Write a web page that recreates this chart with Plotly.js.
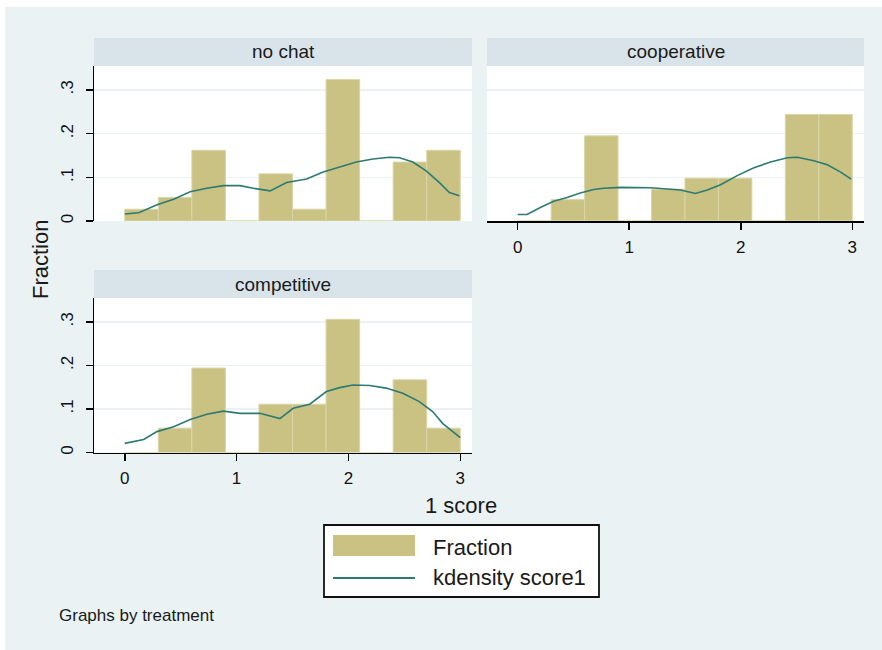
<!DOCTYPE html>
<html>
<head>
<meta charset="utf-8">
<script src="https://cdn.plot.ly/plotly-3.0.1.min.js"></script>
<style>
  html, body { margin: 0; padding: 0; background: #EAF2F3; overflow: hidden; }
  #chart { width: 882px; height: 650px; }
</style>
</head>
<body>
<div id="chart"></div>
<script>
// ---- data ----
const panelTitles = ['no chat', 'cooperative', 'competitive'];
const binCenters = [0.15, 0.45, 0.75, 1.05, 1.35, 1.65, 1.95, 2.25, 2.55, 2.85];
const binWidth = 0.3;
const fracNoChat = [0.027, 0.054, 0.162, 0, 0.108, 0.027, 0.324, 0, 0.135, 0.162];
const fracCoop   = [0, 0.049, 0.195, 0, 0.073, 0.098, 0.098, 0, 0.244, 0.244];
const fracComp   = [0, 0.056, 0.194, 0, 0.111, 0.111, 0.306, 0, 0.167, 0.056];

const kdXNoChat = [0, 0.125, 0.289, 0.437, 0.585, 0.734, 0.882, 1.031, 1.15, 1.30, 1.447, 1.626, 1.774, 1.922, 2.071, 2.219, 2.368, 2.457, 2.576, 2.695, 2.814, 2.903, 2.992];
const kdYNoChat = [0.016, 0.019, 0.037, 0.050, 0.067, 0.075, 0.081, 0.081, 0.075, 0.069, 0.088, 0.096, 0.112, 0.123, 0.135, 0.142, 0.146, 0.145, 0.135, 0.115, 0.088, 0.065, 0.058];

const kdXCoop = [0, 0.084, 0.203, 0.323, 0.443, 0.562, 0.682, 0.772, 0.921, 1.19, 1.46, 1.594, 1.70, 1.819, 1.968, 2.118, 2.267, 2.417, 2.507, 2.656, 2.776, 2.896, 2.99];
const kdYCoop = [0.015, 0.015, 0.031, 0.045, 0.054, 0.064, 0.072, 0.075, 0.077, 0.076, 0.071, 0.063, 0.071, 0.083, 0.104, 0.122, 0.135, 0.145, 0.146, 0.138, 0.129, 0.112, 0.096];

const kdXComp = [0, 0.169, 0.288, 0.437, 0.585, 0.734, 0.882, 1.031, 1.209, 1.387, 1.506, 1.654, 1.803, 1.922, 2.04, 2.19, 2.337, 2.486, 2.634, 2.753, 2.842, 2.931, 3.0];
const kdYComp = [0.021, 0.030, 0.048, 0.059, 0.076, 0.088, 0.095, 0.090, 0.090, 0.078, 0.1015, 0.111, 0.140, 0.149, 0.155, 0.154, 0.148, 0.136, 0.117, 0.094, 0.067, 0.048, 0.034];

const yTickVals = [0, 0.1, 0.2, 0.3];
const yTickText = ['0', '.1', '.2', '.3'];
const xTickVals = [0, 1, 2, 3];
const xTickText = ['0', '1', '2', '3'];
const legendLabels = ['Fraction', 'kdensity score1'];

// ---- styles ----
const W = 882, H = 650;
const BAR = '#C9C283';
const BAR_EDGE = '#DAD6A8';
const LINE = '#2D7A72';
const BG = '#EAF2F3';
const STRIP = '#D8E4EA';
const FONT = 'Liberation Sans, Arial, sans-serif';
const px = v => v / W;
const py = v => 1 - v / H;

function bars(y, xa, ya) {
  return { type: 'bar', x: binCenters, y: y, width: binWidth, xaxis: xa, yaxis: ya,
    marker: { color: BAR, line: { color: BAR_EDGE, width: 1 } }, showlegend: false, hoverinfo: 'skip' };
}
function kd(x, y, xa, ya) {
  return { type: 'scatter', mode: 'lines', x: x, y: y, xaxis: xa, yaxis: ya,
    line: { color: LINE, width: 1.6 }, showlegend: false, hoverinfo: 'skip' };
}

const data = [
  bars(fracNoChat, 'x', 'y'), kd(kdXNoChat, kdYNoChat, 'x', 'y'),
  bars(fracCoop, 'x2', 'y2'), kd(kdXCoop, kdYCoop, 'x2', 'y2'),
  bars(fracComp, 'x3', 'y3'), kd(kdXComp, kdYComp, 'x3', 'y3')
];

const col1 = [px(94), px(472)];
const col2 = [px(487), px(864)];
const row1 = [py(221), py(66)];
const row2 = [py(452.5), py(298)];
const xr = [-0.275, 3.105];
const yr = [0, 0.355];

const tickFont = { family: FONT, size: 17, color: '#111' };

function xAxis(domain, anchor, show) {
  return {
    domain: domain, anchor: anchor, range: xr, fixedrange: true,
    showgrid: false, zeroline: false,
    showline: show, linecolor: '#000', linewidth: 1.5,
    ticks: show ? 'outside' : '', ticklen: 7, tickwidth: 1.5, tickcolor: '#000',
    tickvals: xTickVals, ticktext: xTickText, showticklabels: show,
    tickfont: tickFont, ticklabelstandoff: 3
  };
}
function yAxis(domain, anchor, show) {
  return {
    domain: domain, anchor: anchor, range: yr, fixedrange: true,
    showgrid: true, gridcolor: BG, gridwidth: 1.5, zeroline: false,
    showline: show, linecolor: '#000', linewidth: 1.5,
    ticks: show ? 'outside' : '', ticklen: 7, tickwidth: 1.5, tickcolor: '#000',
    tickvals: yTickVals, ticktext: yTickText, showticklabels: show,
    tickangle: -90, tickfont: tickFont, ticklabelstandoff: 6
  };
}

const shapes = [
  // white margin at top and left (outside the graph region)
  { type: 'rect', xref: 'paper', yref: 'paper', x0: 0, x1: 1, y0: py(7), y1: 1, fillcolor: '#fff', line: { width: 0 } },
  { type: 'rect', xref: 'paper', yref: 'paper', x0: 0, x1: px(5), y0: 0, y1: 1, fillcolor: '#fff', line: { width: 0 } },
  // strips
  { type: 'rect', xref: 'paper', yref: 'paper', x0: col1[0], x1: col1[1], y0: py(66), y1: py(38), fillcolor: STRIP, line: { width: 0 } },
  { type: 'rect', xref: 'paper', yref: 'paper', x0: col2[0], x1: col2[1], y0: py(66), y1: py(38), fillcolor: STRIP, line: { width: 0 } },
  { type: 'rect', xref: 'paper', yref: 'paper', x0: col1[0], x1: col1[1], y0: py(298), y1: py(270), fillcolor: STRIP, line: { width: 0 } },
  // legend box
  { type: 'rect', xref: 'paper', yref: 'paper', x0: px(324), x1: px(599), y0: py(597), y1: py(525), fillcolor: '#fff', line: { color: '#111', width: 1.8 } },
  { type: 'rect', xref: 'paper', yref: 'paper', x0: px(333), x1: px(415), y0: py(556), y1: py(535), fillcolor: BAR, line: { width: 0 } },
  { type: 'line', xref: 'paper', yref: 'paper', x0: px(333), x1: px(415), y0: py(578), y1: py(578), line: { color: LINE, width: 2 } }
];

function ann(text, x, y, size, opts) {
  return Object.assign({ text: text, xref: 'paper', yref: 'paper', x: px(x), y: py(y),
    showarrow: false, font: { family: FONT, size: size, color: '#1a1a1a' },
    xanchor: 'center', yanchor: 'middle' }, opts || {});
}

const annotations = [
  ann(panelTitles[0], 283, 52, 19),
  ann(panelTitles[1], 675.5, 52, 19),
  ann(panelTitles[2], 283, 284, 19),
  ann('Fraction', 40, 260, 22, { textangle: -90 }),
  ann('1 score', 461, 505, 22),
  ann(legendLabels[0], 431, 547, 22, { xanchor: 'left' }),
  ann(legendLabels[1], 431, 577, 22, { xanchor: 'left' }),
  ann('Graphs by treatment', 57, 615, 17, { xanchor: 'left' })
];

const layout = {
  width: W, height: H,
  margin: { l: 0, r: 0, t: 0, b: 0, pad: 0 },
  paper_bgcolor: BG, plot_bgcolor: '#ffffff',
  showlegend: false, hovermode: false, barmode: 'overlay',
  font: { family: FONT },
  xaxis: xAxis(col1, 'y', false),
  yaxis: yAxis(row1, 'x', true),
  xaxis2: xAxis(col2, 'y2', true),
  yaxis2: yAxis(row1, 'x2', false),
  xaxis3: xAxis(col1, 'y3', true),
  yaxis3: yAxis(row2, 'x3', true),
  shapes: shapes,
  annotations: annotations
};

Plotly.newPlot('chart', data, layout, { staticPlot: true, displayModeBar: false });
</script>
</body>
</html>
